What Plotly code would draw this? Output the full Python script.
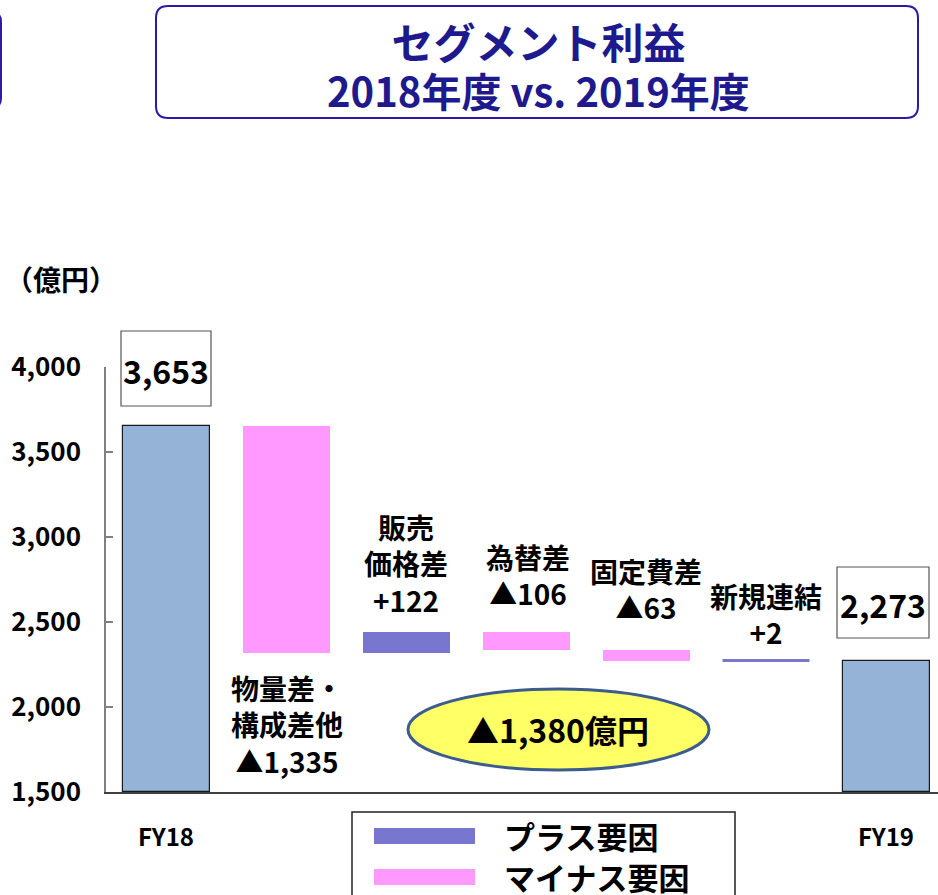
import plotly.graph_objects as go

# ---------------- data ----------------
categories = ["FY18", "物量差・構成差他", "販売価格差", "為替差", "固定費差", "新規連結", "FY19"]
start_value = 3653
deltas = [-1335, 122, -106, -63, 2]
end_value = 2273
total_change = -1380
y_tick_values = [1500, 2000, 2500, 3000, 3500, 4000]
y_tick_labels = ["1,500", "2,000", "2,500", "3,000", "3,500", "4,000"]
delta_labels = [
    "物量差・<br>構成差他<br>▲1,335",
    "販売<br>価格差<br>+122",
    "為替差<br>▲106",
    "固定費差<br>▲63",
    "新規連結<br>+2",
]
legend_labels = ["プラス要因", "マイナス要因"]
title_lines = ["セグメント利益", "2018年度 vs. 2019年度"]
unit_label = "（億円）"
summary_label = "▲1,380億円"

# ---------------- styles ----------------
BLUE = "#95B3D7"
PLUS = "#7876CE"
MINUS = "#FF99FF"
NAVY = "#1E1A8E"
FONT = "Noto Sans CJK JP"

W, H = 938, 895
L, T, B = 106, 367, 103
PW, PH = W - L, H - T - B
BOTTOM = H - B


def px(x):
    return (x - L) / PW


def py(y):
    return (BOTTOM - y) / PH


# ---------------- waterfall geometry ----------------
bases, heights, colors, lw, lc = [], [], [], [], []
bases.append(y_tick_values[0]); heights.append(start_value - y_tick_values[0])
colors.append(BLUE); lw.append(1.2); lc.append("#1a1a1a")
level = start_value
for d in deltas:
    lo = min(level, level + d)
    bases.append(lo); heights.append(abs(d))
    c = PLUS if d > 0 else MINUS
    colors.append(c); lc.append(c)
    lw.append(3 if abs(d) < 10 else 0)
    level += d
bases.append(y_tick_values[0]); heights.append(end_value - y_tick_values[0])
colors.append(BLUE); lw.append(1.2); lc.append("#1a1a1a")

xs = list(range(len(categories)))

fig = go.Figure()
fig.add_trace(go.Bar(
    x=xs, y=heights, base=bases, width=0.725,
    marker=dict(color=colors, line=dict(color=lc, width=lw)),
    hoverinfo="skip", showlegend=False,
))

shapes = []
ann = []

# value boxes for totals
for i, (val, box) in enumerate([(start_value, (121, 331, 211, 406)), (end_value, (837, 567, 929, 638))]):
    x0, y0, x1, y1 = box
    shapes.append(dict(type="rect", xref="paper", yref="paper",
                       x0=px(x0), x1=px(x1), y0=py(y1), y1=py(y0),
                       line=dict(color="#555555", width=1.2), fillcolor="white"))
    ann.append(dict(xref="paper", yref="paper", x=px((x0 + x1) / 2), y=py((y0 + y1) / 2 + 1),
                    text=f"<b>{val:,}</b>", showarrow=False, xanchor="center", yanchor="middle",
                    font=dict(family=FONT, size=32, color="black")))

# delta labels
label_pos = [(287, 724), (406, 563), (528, 575), (646, 589), (766, 614)]
for (x, y), t in zip(label_pos, delta_labels):
    ann.append(dict(xref="paper", yref="paper", x=px(x), y=py(y), text=f"<b>{t}</b>",
                    showarrow=False, xanchor="center", yanchor="middle",
                    font=dict(family=FONT, size=28, color="black")))

# FY labels
for i, x in [(0, 166), (6, 886)]:
    ann.append(dict(xref="paper", yref="paper", x=px(x), y=py(835), text=f"<b>{categories[i]}</b>",
                    showarrow=False, xanchor="center", yanchor="middle",
                    font=dict(family=FONT, size=24, color="black")))

# unit label
ann.append(dict(xref="paper", yref="paper", x=px(3), y=py(279), text=f"<b>{unit_label}</b>",
                showarrow=False, xanchor="left", yanchor="middle",
                font=dict(family=FONT, size=28, color="black")))

# summary ellipse
shapes.append(dict(type="circle", xref="paper", yref="paper",
                   x0=px(408), x1=px(709), y0=py(770), y1=py(689),
                   line=dict(color="#3B5C8C", width=3), fillcolor="#FFFF66"))
ann.append(dict(xref="paper", yref="paper", x=px(558), y=py(729), text=f"<b>{summary_label}</b>",
                showarrow=False, xanchor="center", yanchor="middle",
                font=dict(family=FONT, size=32, color="black")))

# legend box
shapes.append(dict(type="rect", xref="paper", yref="paper",
                   x0=px(352), x1=px(735), y0=py(905), y1=py(812),
                   line=dict(color="#222222", width=1.5), fillcolor="white"))
for (yc, col, lab) in [(835, PLUS, legend_labels[0]), (876, MINUS, legend_labels[1])]:
    shapes.append(dict(type="rect", xref="paper", yref="paper",
                       x0=px(374), x1=px(475), y0=py(yc + 9), y1=py(yc - 7),
                       line=dict(width=0), fillcolor=col))
    ann.append(dict(xref="paper", yref="paper", x=px(502), y=py(yc), text=f"<b>{lab}</b>",
                    showarrow=False, xanchor="left", yanchor="middle",
                    font=dict(family=FONT, size=31, color="black")))


def rounded(x0, y0, x1, y1, r):
    # pixel coords -> paper path with quadratic corners
    pts = [
        ("M", x0 + r, y0), ("L", x1 - r, y0), ("Q", x1, y0, x1, y0 + r),
        ("L", x1, y1 - r), ("Q", x1, y1, x1 - r, y1), ("L", x0 + r, y1),
        ("Q", x0, y1, x0, y1 - r), ("L", x0, y0 + r), ("Q", x0, y0, x0 + r, y0),
    ]
    s = ""
    for p in pts:
        cmd = p[0]
        coords = p[1:]
        parts = []
        for j in range(0, len(coords), 2):
            parts.append(f"{px(coords[j]):.5f},{py(coords[j + 1]):.5f}")
        s += cmd + " ".join(parts) + " "
    return s + "Z"


# title box
shapes.append(dict(type="path", xref="paper", yref="paper", path=rounded(156, 6, 918, 118, 12),
                   line=dict(color="#2A1AA8", width=2), fillcolor="white"))
# partial box at left edge
shapes.append(dict(type="path", xref="paper", yref="paper", path=rounded(-300, 12, 1, 108, 10),
                   line=dict(color="#2A1AA8", width=2), fillcolor="rgba(0,0,0,0)"))
title_text = (f"<b><span style='font-size:42px'>{title_lines[0]}</span><br>"
              f"<span style='font-size:40px'>{title_lines[1]}</span></b>")
ann.append(dict(xref="paper", yref="paper", x=px(538), y=py(65), text=title_text,
                showarrow=False, xanchor="center", yanchor="middle",
                font=dict(family=FONT, size=37, color=NAVY)))

fig.update_layout(
    width=W, height=H,
    margin=dict(l=L, r=0, t=T, b=B, pad=0),
    plot_bgcolor="white", paper_bgcolor="white",
    shapes=shapes, annotations=ann,
    bargap=0,
    xaxis=dict(range=[-0.5, -0.5 + PW / 120], showticklabels=False, ticks="",
               showline=True, linecolor="#404040", linewidth=1.5, showgrid=False, zeroline=False,
               fixedrange=True),
    yaxis=dict(range=[1500, 4000], tickvals=y_tick_values,
               ticktext=[f"<b>{t}</b>" for t in y_tick_labels],
               ticks="inside", ticklen=7, tickcolor="#808080", tickwidth=1.5,
               showline=True, linecolor="#808080", linewidth=1.5, showgrid=False, zeroline=False,
               tickfont=dict(family=FONT, size=26, color="black"), ticklabelstandoff=18,
               fixedrange=True),
)

fig.write_html("out.html", config={"displayModeBar": False},
               post_script="document.body.style.margin='0px';document.body.style.overflow='hidden';")
